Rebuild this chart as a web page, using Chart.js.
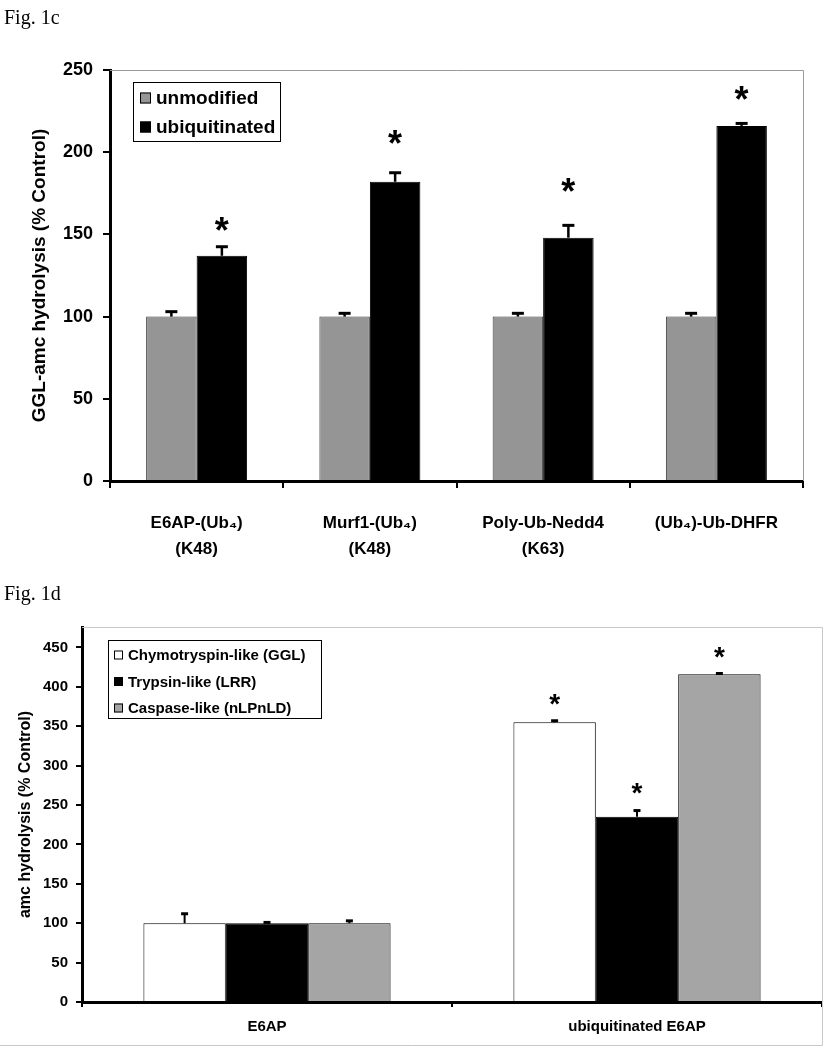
<!DOCTYPE html>
<html><head><meta charset="utf-8">
<script src="https://cdn.jsdelivr.net/npm/chart.js@4.4.1/dist/chart.umd.min.js"></script>
<style>
html,body{margin:0;padding:0;background:#fff}
body{width:840px;height:1050px;position:relative;overflow:hidden}
.box{position:absolute;left:0;width:840px}
.fig{position:absolute;left:4px;font-family:'Liberation Serif','Times New Roman',serif;font-size:20px;color:#000}
</style></head><body>
<div class="box" style="top:0;height:580px"><canvas id="c1"></canvas></div>
<div class="box" style="top:580px;height:470px"><canvas id="c2"></canvas></div>
<div class="fig" style="top:6px">Fig. 1c</div>
<div class="fig" style="top:582px">Fig. 1d</div>
<script>
// ---------- Fig. 1c data ----------
const categories1 = [['E6AP-(Ub\u2084)','(K48)'], ['Murf1-(Ub\u2084)','(K48)'], ['Poly-Ub-Nedd4','(K63)'], ['(Ub\u2084)-Ub-DHFR']];
const unmodified = [100, 100, 100, 100];
const unmodifiedErr = [3, 2, 2, 2];
const ubiquitinated = [137, 182, 148, 216];
const ubiquitinatedErr = [5.5, 5.5, 7.5, 1.5];
const ubiquitinatedStarAt = [157, 210, 181, 237];
const yTicks1 = [0, 50, 100, 150, 200, 250];

// ---------- Fig. 1d data ----------
const categories2 = ['E6AP', 'ubiquitinated E6AP'];
const chymotrypsin = [100, 355];
const chymotrypsinErr = [12, 2];
const chymotrypsinStarAt = [null, 387];
const trypsin = [100, 235];
const trypsinErr = [1, 8];
const trypsinStarAt = [null, 274];
const caspase = [100, 416];
const caspaseErr = [3, 1];
const caspaseStarAt = [null, 447];
const yTicks2 = [0, 50, 100, 150, 200, 250, 300, 350, 400, 450];

const F = "'Liberation Sans', Arial, sans-serif";

const errorBars = {
  id: 'errorBars',
  afterDatasetsDraw(chart, args, o) {
    const ctx = chart.ctx, ys = chart.scales.y;
    ctx.save();
    chart.data.datasets.forEach((ds, i) => {
      if (!ds.errors) return;
      const meta = chart.getDatasetMeta(i);
      meta.data.forEach((bar, j) => {
        const e = ds.errors[j];
        if (e == null) return;
        const yTop = ys.getPixelForValue(ds.data[j] + e);
        ctx.strokeStyle = '#000';
        ctx.lineWidth = o.lw;
        ctx.beginPath(); ctx.moveTo(bar.x, bar.y); ctx.lineTo(bar.x, yTop); ctx.stroke();
        ctx.lineWidth = o.capLw;
        ctx.beginPath(); ctx.moveTo(bar.x - o.cap / 2, yTop); ctx.lineTo(bar.x + o.cap / 2, yTop); ctx.stroke();
      });
    });
    ctx.restore();
  }
};

const stars = {
  id: 'stars',
  afterDatasetsDraw(chart, args, o) {
    const ctx = chart.ctx, ys = chart.scales.y;
    ctx.save();
    ctx.fillStyle = '#000';
    ctx.font = 'bold ' + o.size + 'px ' + F;
    ctx.textAlign = 'center';
    ctx.textBaseline = 'alphabetic';
    chart.data.datasets.forEach((ds, i) => {
      if (!ds.stars) return;
      const meta = chart.getDatasetMeta(i);
      meta.data.forEach((bar, j) => {
        const s = ds.stars[j];
        if (s == null) return;
        const cy = ys.getPixelForValue(s);
        ctx.fillText('*', bar.x, cy + 0.57 * o.size);
      });
    });
    ctx.restore();
  }
};

const frame = {
  id: 'frame',
  beforeDatasetsDraw(chart, args, o) {
    const ctx = chart.ctx, a = chart.chartArea;
    ctx.save();
    ctx.strokeStyle = o.color; ctx.lineWidth = 1;
    ctx.beginPath();
    ctx.moveTo(a.left, a.top + 0.5); ctx.lineTo(a.right + 0.5, a.top + 0.5);
    ctx.lineTo(a.right + 0.5, o.bottomTo != null ? o.bottomTo : a.bottom);
    if (o.bottomTo != null) ctx.lineTo(0, o.bottomTo);
    ctx.stroke();
    ctx.restore();
  }
};

const legendBox = {
  id: 'legendBox',
  afterDraw(chart, args, o) {
    const ctx = chart.ctx;
    ctx.save();
    ctx.fillStyle = '#fff';
    ctx.fillRect(o.x, o.y, o.w, o.h);
    ctx.strokeStyle = '#000'; ctx.lineWidth = 1;
    ctx.strokeRect(o.x + 0.5, o.y + 0.5, o.w, o.h);
    ctx.font = 'bold ' + o.size + 'px ' + F;
    ctx.textBaseline = 'middle';
    ctx.textAlign = 'left';
    chart.data.datasets.forEach((ds, i) => {
      const cy = o.y + o.first + i * o.step;
      ctx.fillStyle = ds.backgroundColor;
      ctx.fillRect(o.sx, cy - o.sq / 2, o.sq, o.sq);
      ctx.strokeStyle = '#000';
      ctx.strokeRect(o.sx + 0.5, cy - o.sq / 2 + 0.5, o.sq - 1, o.sq - 1);
      ctx.fillStyle = '#000';
      ctx.fillText(ds.label, o.tx, cy + 1);
    });
    ctx.restore();
  }
};

function tickFilter(list) {
  return s => { s.ticks = list.map(v => ({ value: v })); };
}

new Chart(document.getElementById('c1'), {
  type: 'bar',
  data: {
    labels: categories1,
    datasets: [
      { label: 'unmodified', data: unmodified, errors: unmodifiedErr,
        backgroundColor: '#959595', borderColor: '#3a3a3a', borderWidth: 1,
        barPercentage: 1, categoryPercentage: 0.583 },
      { label: 'ubiquitinated', data: ubiquitinated, errors: ubiquitinatedErr, stars: ubiquitinatedStarAt,
        backgroundColor: '#000000', borderColor: '#000000', borderWidth: 1,
        barPercentage: 1, categoryPercentage: 0.583 }
    ]
  },
  options: {
    responsive: true, maintainAspectRatio: false, animation: false, devicePixelRatio: 1,
    layout: { padding: { left: 0, top: 70, right: 37, bottom: 0 } },
    plugins: {
      legend: { display: false }, tooltip: { enabled: false },
      errorBars: { lw: 2.5, capLw: 3, cap: 12 },
      stars: { size: 36 },
      frame: { color: '#9a9a9a' },
      legendBox: { x: 133, y: 82, w: 147, h: 59, first: 16, step: 29, sq: 11, sx: 140, tx: 156, size: 19 }
    },
    scales: {
      x: {
        grid: { display: true, drawOnChartArea: false, drawTicks: true, tickLength: 7, color: '#000', lineWidth: 2, offset: true },
        border: { display: true, color: '#000', width: 3 },
        ticks: { color: '#000', font: { family: F, size: 17, weight: 'bold', lineHeight: 1.55 }, padding: 22, maxRotation: 0, autoSkip: false },
        afterFit: s => { s.height = 99; }
      },
      y: {
        min: 0, max: 250,
        afterBuildTicks: tickFilter(yTicks1),
        grid: { display: true, drawOnChartArea: false, drawTicks: true, tickLength: 7, color: '#000', lineWidth: 2 },
        border: { display: true, color: '#000', width: 3 },
        ticks: { color: '#000', font: { family: F, size: 18, weight: 'bold' }, padding: 10 },
        title: { display: true, text: 'GGL-amc hydrolysis (% Control)', color: '#000',
          font: { family: F, size: 19, weight: 'bold' }, padding: { top: 28, bottom: 0 } },
        afterFit: s => { s.width = 110; }
      }
    }
  },
  plugins: [frame, errorBars, stars, legendBox]
});

new Chart(document.getElementById('c2'), {
  type: 'bar',
  data: {
    labels: categories2,
    datasets: [
      { label: 'Chymotryspin-like (GGL)', data: chymotrypsin, errors: chymotrypsinErr, stars: chymotrypsinStarAt,
        backgroundColor: '#ffffff', borderColor: '#000', borderWidth: 1,
        barPercentage: 1, categoryPercentage: 0.668 },
      { label: 'Trypsin-like (LRR)', data: trypsin, errors: trypsinErr, stars: trypsinStarAt,
        backgroundColor: '#000000', borderColor: '#000', borderWidth: 1,
        barPercentage: 1, categoryPercentage: 0.668 },
      { label: 'Caspase-like (nLPnLD)', data: caspase, errors: caspaseErr, stars: caspaseStarAt,
        backgroundColor: '#a5a5a5', borderColor: '#000', borderWidth: 1,
        barPercentage: 1, categoryPercentage: 0.668 }
    ]
  },
  options: {
    responsive: true, maintainAspectRatio: false, animation: false, devicePixelRatio: 1,
    layout: { padding: { left: 0, top: 47, right: 18, bottom: 0 } },
    plugins: {
      legend: { display: false }, tooltip: { enabled: false },
      errorBars: { lw: 2, capLw: 3, cap: 7 },
      stars: { size: 28 },
      frame: { color: '#c8c8c8', bottomTo: 465.5 },
      legendBox: { x: 108, y: 60, w: 213, h: 78, first: 15, step: 26.5, sq: 9, sx: 114, tx: 128, size: 15 }
    },
    scales: {
      x: {
        grid: { display: true, drawOnChartArea: false, drawTicks: true, tickLength: 5, color: '#000', lineWidth: 2, offset: true },
        border: { display: true, color: '#000', width: 3 },
        ticks: { color: '#000', font: { family: F, size: 15, weight: 'bold' }, padding: 11, maxRotation: 0, autoSkip: false },
        afterFit: s => { s.height = 48; }
      },
      y: {
        min: 0, max: 476,
        afterBuildTicks: tickFilter(yTicks2),
        grid: { display: true, drawOnChartArea: false, drawTicks: true, tickLength: 6, color: '#000', lineWidth: 2 },
        border: { display: true, color: '#000', width: 3 },
        ticks: { color: '#000', font: { family: F, size: 15, weight: 'bold' }, padding: 8 },
        title: { display: true, text: 'amc hydrolysis (% Control)', color: '#000',
          font: { family: F, size: 16, weight: 'bold' }, padding: { top: 16, bottom: 0 } },
        afterFit: s => { s.width = 82; }
      }
    }
  },
  plugins: [frame, errorBars, stars, legendBox]
});
</script>
</body></html>
